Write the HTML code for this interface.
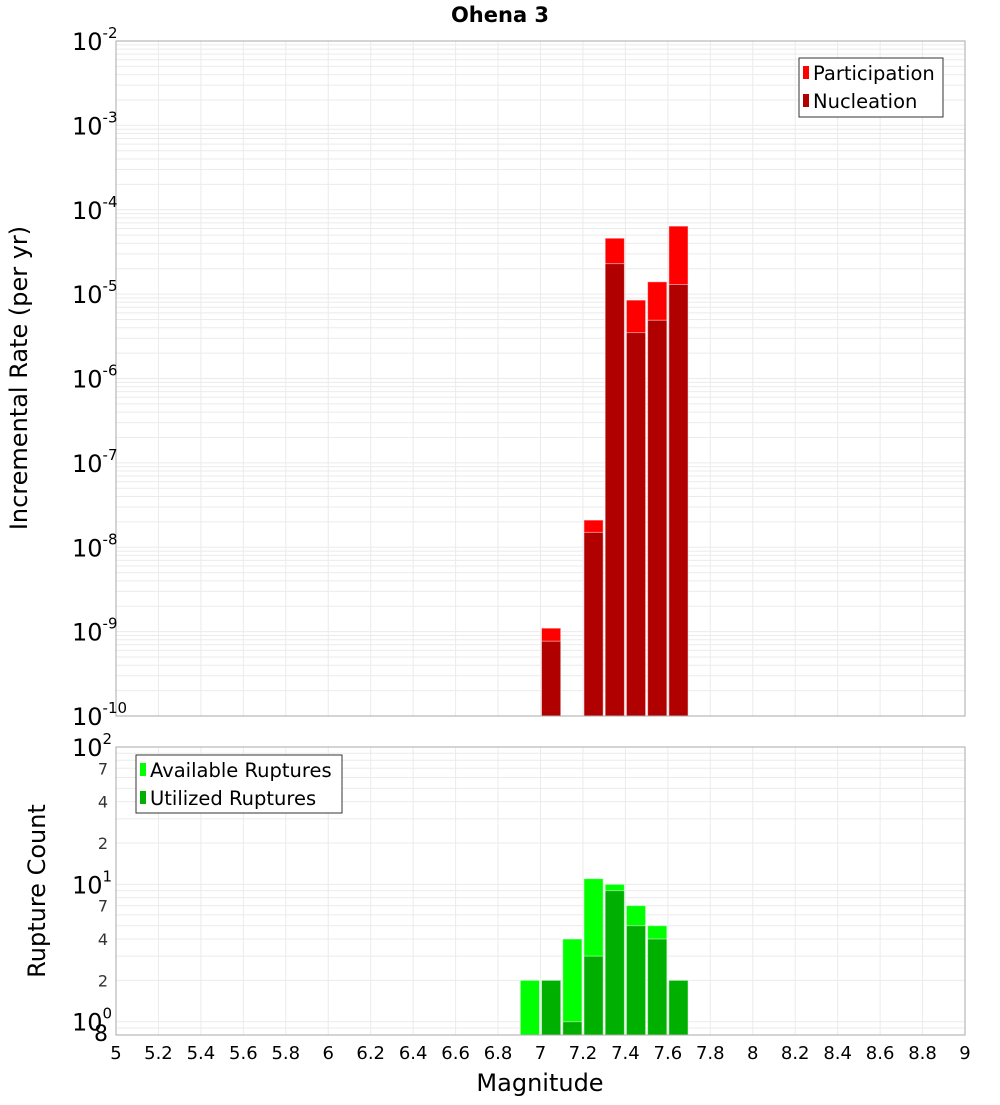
<!DOCTYPE html>
<html><head><meta charset="utf-8"><style>
body{margin:0;background:#fff;font-family:"Liberation Sans","DejaVu Sans",sans-serif}
svg text{font-family:"DejaVu Sans","Liberation Sans",sans-serif}
</style></head><body>
<svg id="c" width="1000" height="1100" xmlns="http://www.w3.org/2000/svg">
<text x="500" y="22" text-anchor="middle" font-size="21" font-weight="bold">Ohena 3</text>
<text transform="translate(27,378) rotate(-90)" text-anchor="middle" font-size="24">Incremental Rate (per yr)</text>
<text transform="translate(45,891) rotate(-90)" text-anchor="middle" font-size="24">Rupture Count</text>
<text x="540" y="1091" text-anchor="middle" font-size="24">Magnitude</text>
<g id="topPlot"></g>
<g id="botPlot"></g>
<g>
<rect x="799" y="58" width="144" height="59" fill="#fff" stroke="#333"/>
<rect x="803" y="66" width="6" height="13" fill="#ff0000"/>
<text x="813" y="80" font-size="19.5">Participation</text>
<rect x="803" y="94" width="6" height="13" fill="#b00000"/>
<text x="813" y="108" font-size="19.5">Nucleation</text>
</g>
<g>
<rect x="136" y="755" width="206" height="58" fill="#fff" stroke="#333"/>
<rect x="140" y="763" width="6" height="13" fill="#00ff00"/>
<text x="150" y="777" font-size="19.5">Available Ruptures</text>
<rect x="140" y="791" width="6" height="13" fill="#00b000"/>
<text x="150" y="805" font-size="19.5">Utilized Ruptures</text>
</g>
</svg>
<script>
const bins=[6.95,7.05,7.15,7.25,7.35,7.45,7.55,7.65];
const participation=[0,1.1e-9,0,2.1e-8,4.6e-5,8.5e-6,1.4e-5,6.4e-5];
const nucleation=[0,7.7e-10,0,1.5e-8,2.3e-5,3.5e-6,4.9e-6,1.3e-5];
const available=[2,2,4,11,10,7,5,2];
const utilized=[0,2,1,3,9,5,4,2];
const xTicks=[5,5.2,5.4,5.6,5.8,6,6.2,6.4,6.6,6.8,7,7.2,7.4,7.6,7.8,8,8.2,8.4,8.6,8.8,9];
const NS="http://www.w3.org/2000/svg";
const X0=116,X1=965;
const xs=m=>X0+(m-5)/4*(X1-X0);
const T0=41,T1=716,tMin=-10,tMax=-2;
const ty=v=>T1-(Math.log10(v)-tMin)/(tMax-tMin)*(T1-T0);
const B0=747,B1=1035,bMin=Math.log10(0.8),bMax=2;
const by=v=>B1-(Math.log10(v)-bMin)/(bMax-bMin)*(B1-B0);
function mk(p,tag,a,txt){const e=document.createElementNS(NS,tag);for(const k in a)e.setAttribute(k,a[k]);if(txt!==undefined)e.textContent=txt;p.appendChild(e);return e;}
const gTop=document.getElementById('topPlot'),gBot=document.getElementById('botPlot');
function grid(g,y0,y1,yf,lo,hi){
  for(let d=lo;d<hi;d++)for(let k=1;k<10;k++){const v=k*Math.pow(10,d);const y=yf(v);if(y<y0-0.5||y>y1+0.5)continue;
    const l=mk(g,'line',{x1:X0,x2:X1,y1:y,y2:y,stroke:'#ebebeb','stroke-width':1});
    
    }
  xTicks.forEach(t=>{const l=mk(g,'line',{x1:xs(t),x2:xs(t),y1:y0,y2:y1,stroke:'#ebebeb'});
    
    });
}
grid(gTop,T0,T1,ty,-10,-2);
grid(gBot,B0,B1,by,-1,2);
function bars(g,vals,yf,yb,col,nm){
  vals.forEach((v,i)=>{if(!v)return;const x=xs(bins[i]-0.05),w=xs(bins[i]+0.05)-x;const y=yf(v);
    const r=mk(g,'rect',{x:x+1,y:y,width:w-2,height:yb-y,fill:col,stroke:'rgba(255,255,255,0.5)','stroke-width':1});
    
    });
}
bars(gTop,participation,ty,T1,'#ff0000','participation');
bars(gTop,nucleation,ty,T1,'#b00000','nucleation');
bars(gBot,available,by,B1,'#00ff00','available');
bars(gBot,utilized,by,B1,'#00b000','utilized');
mk(gTop,'rect',{x:X0,y:T0,width:X1-X0,height:T1-T0,fill:'none',stroke:'#aaa'});
mk(gBot,'rect',{x:X0,y:B0,width:X1-X0,height:B1-B0,fill:'none',stroke:'#aaa'});
for(let d=-10;d<=-2;d++){const y=ty(Math.pow(10,d));
  const t=mk(gTop,'text',{x:72,y:y+9,'font-size':24},'10');
  
  
  mk(t,'tspan',{dy:-12,'font-size':15},String(d));}
[[100,'2'],[10,'1'],[1,'0']].forEach(([v,e])=>{const y=by(v);
  const t=mk(gBot,'text',{x:72,y:y+9,'font-size':24},'10');
  
  
  mk(t,'tspan',{dy:-12,'font-size':15},e);});
[[70,'7'],[40,'4'],[20,'2'],[7,'7'],[4,'4'],[2,'2'],[0.8,'8']].forEach(([v,s])=>{const y=by(v);
  const t=mk(gBot,'text',{x:108,y:y+6,'font-size':v===0.8?22:16,'text-anchor':'end',fill:v===0.8?'#000':'#333'},s);
  
  });
xTicks.forEach(t=>{const e=mk(gBot,'text',{x:xs(t),y:1059,'font-size':18,'text-anchor':'middle'},String(t));
  
  });
</script>
</body></html>
